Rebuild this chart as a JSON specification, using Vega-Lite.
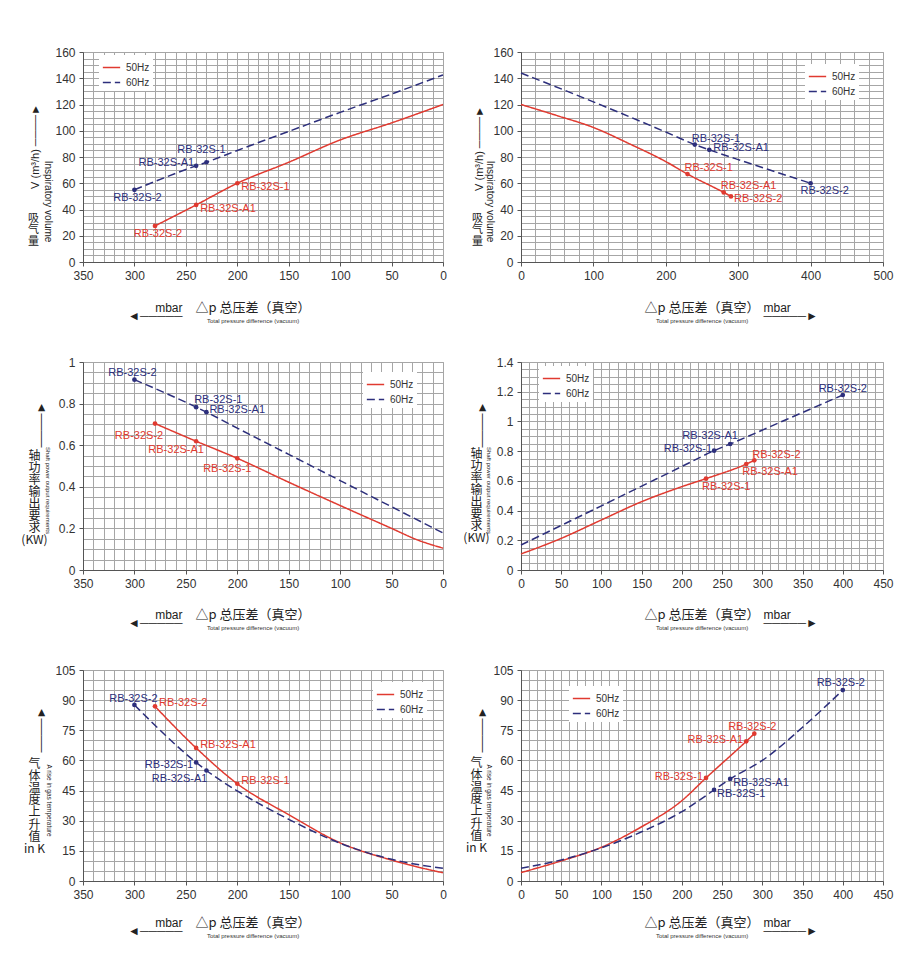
{
  "$schema": "https://vega.github.io/schema/vega-lite/v6.json",
  "background": "white",
  "padding": {"left": 20, "top": 45, "right": 5, "bottom": 5},
  "bounds": "flush",
  "columns": 2,
  "spacing": {"row": 100, "column": 78},
  "resolve": {"scale": {"color": "independent", "strokeDash": "independent"}, "legend": {"color": "independent", "strokeDash": "independent"}},
  "datasets": {
    "c1": [
      {"freq": "50Hz", "dp": 0, "val": 120}, {"freq": "50Hz", "dp": 50, "val": 106}, {"freq": "50Hz", "dp": 100, "val": 93}, {"freq": "50Hz", "dp": 150, "val": 76},
      {"freq": "50Hz", "dp": 200, "val": 60, "model": "RB-32S-1"}, {"freq": "50Hz", "dp": 240, "val": 43.5, "model": "RB-32S-A1"}, {"freq": "50Hz", "dp": 280, "val": 27.5, "model": "RB-32S-2"},
      {"freq": "60Hz", "dp": 0, "val": 142.5}, {"freq": "60Hz", "dp": 50, "val": 128}, {"freq": "60Hz", "dp": 100, "val": 114}, {"freq": "60Hz", "dp": 150, "val": 99.5}, {"freq": "60Hz", "dp": 200, "val": 85},
      {"freq": "60Hz", "dp": 230, "val": 76, "model": "RB-32S-1"}, {"freq": "60Hz", "dp": 240, "val": 73.3, "model": "RB-32S-A1"}, {"freq": "60Hz", "dp": 300, "val": 55, "model": "RB-32S-2"}
    ],
    "c2": [
      {"freq": "50Hz", "dp": 0, "val": 120}, {"freq": "50Hz", "dp": 50, "val": 111.5}, {"freq": "50Hz", "dp": 100, "val": 102.5}, {"freq": "50Hz", "dp": 150, "val": 90}, {"freq": "50Hz", "dp": 200, "val": 76.5},
      {"freq": "50Hz", "dp": 230, "val": 67, "model": "RB-32S-1"}, {"freq": "50Hz", "dp": 280, "val": 53, "model": "RB-32S-A1"}, {"freq": "50Hz", "dp": 290, "val": 50, "model": "RB-32S-2"},
      {"freq": "60Hz", "dp": 0, "val": 144}, {"freq": "60Hz", "dp": 100, "val": 122}, {"freq": "60Hz", "dp": 200, "val": 99},
      {"freq": "60Hz", "dp": 240, "val": 89.5, "model": "RB-32S-1"}, {"freq": "60Hz", "dp": 260, "val": 85.5, "model": "RB-32S-A1"}, {"freq": "60Hz", "dp": 300, "val": 78}, {"freq": "60Hz", "dp": 350, "val": 69},
      {"freq": "60Hz", "dp": 400, "val": 60, "model": "RB-32S-2"}
    ],
    "c3": [
      {"freq": "50Hz", "dp": 0, "val": 0.105}, {"freq": "50Hz", "dp": 25, "val": 0.145}, {"freq": "50Hz", "dp": 50, "val": 0.2}, {"freq": "50Hz", "dp": 100, "val": 0.31}, {"freq": "50Hz", "dp": 150, "val": 0.422},
      {"freq": "50Hz", "dp": 200, "val": 0.537, "model": "RB-32S-1"}, {"freq": "50Hz", "dp": 240, "val": 0.619, "model": "RB-32S-A1"}, {"freq": "50Hz", "dp": 280, "val": 0.704, "model": "RB-32S-2"},
      {"freq": "60Hz", "dp": 0, "val": 0.178}, {"freq": "60Hz", "dp": 50, "val": 0.304}, {"freq": "60Hz", "dp": 100, "val": 0.43}, {"freq": "60Hz", "dp": 150, "val": 0.556}, {"freq": "60Hz", "dp": 200, "val": 0.682},
      {"freq": "60Hz", "dp": 230, "val": 0.759, "model": "RB-32S-A1"}, {"freq": "60Hz", "dp": 240, "val": 0.783, "model": "RB-32S-1"}, {"freq": "60Hz", "dp": 300, "val": 0.915, "model": "RB-32S-2"}
    ],
    "c4": [
      {"freq": "50Hz", "dp": 0, "val": 0.108}, {"freq": "50Hz", "dp": 50, "val": 0.213}, {"freq": "50Hz", "dp": 100, "val": 0.337}, {"freq": "50Hz", "dp": 150, "val": 0.46}, {"freq": "50Hz", "dp": 200, "val": 0.561},
      {"freq": "50Hz", "dp": 230, "val": 0.615, "model": "RB-32S-1"}, {"freq": "50Hz", "dp": 280, "val": 0.713, "model": "RB-32S-A1"}, {"freq": "50Hz", "dp": 290, "val": 0.738, "model": "RB-32S-2"},
      {"freq": "60Hz", "dp": 0, "val": 0.168}, {"freq": "60Hz", "dp": 100, "val": 0.432}, {"freq": "60Hz", "dp": 200, "val": 0.697},
      {"freq": "60Hz", "dp": 240, "val": 0.803, "model": "RB-32S-1"}, {"freq": "60Hz", "dp": 260, "val": 0.848, "model": "RB-32S-A1"}, {"freq": "60Hz", "dp": 330, "val": 1.013},
      {"freq": "60Hz", "dp": 400, "val": 1.178, "model": "RB-32S-2"}
    ],
    "c5": [
      {"freq": "50Hz", "dp": 0, "val": 4.1}, {"freq": "50Hz", "dp": 25, "val": 7}, {"freq": "50Hz", "dp": 50, "val": 10.4}, {"freq": "50Hz", "dp": 100, "val": 19}, {"freq": "50Hz", "dp": 150, "val": 33},
      {"freq": "50Hz", "dp": 200, "val": 48.4, "model": "RB-32S-1"}, {"freq": "50Hz", "dp": 240, "val": 66.2, "model": "RB-32S-A1"}, {"freq": "50Hz", "dp": 280, "val": 86.9, "model": "RB-32S-2"},
      {"freq": "60Hz", "dp": 0, "val": 6.3}, {"freq": "60Hz", "dp": 50, "val": 10.8}, {"freq": "60Hz", "dp": 85, "val": 16}, {"freq": "60Hz", "dp": 100, "val": 18.8}, {"freq": "60Hz", "dp": 150, "val": 30.7}, {"freq": "60Hz", "dp": 200, "val": 44.8},
      {"freq": "60Hz", "dp": 230, "val": 55, "model": "RB-32S-A1"}, {"freq": "60Hz", "dp": 240, "val": 59, "model": "RB-32S-1"}, {"freq": "60Hz", "dp": 300, "val": 87.6, "model": "RB-32S-2"}
    ],
    "c6": [
      {"freq": "50Hz", "dp": 0, "val": 4.2}, {"freq": "50Hz", "dp": 50, "val": 10}, {"freq": "50Hz", "dp": 100, "val": 16.8}, {"freq": "50Hz", "dp": 150, "val": 27}, {"freq": "50Hz", "dp": 200, "val": 40},
      {"freq": "50Hz", "dp": 230, "val": 51.3, "model": "RB-32S-1"}, {"freq": "50Hz", "dp": 280, "val": 69.5, "model": "RB-32S-A1"}, {"freq": "50Hz", "dp": 290, "val": 73.3, "model": "RB-32S-2"},
      {"freq": "60Hz", "dp": 0, "val": 6.3}, {"freq": "60Hz", "dp": 50, "val": 10.5}, {"freq": "60Hz", "dp": 100, "val": 16.5}, {"freq": "60Hz", "dp": 150, "val": 24.5}, {"freq": "60Hz", "dp": 200, "val": 34.5},
      {"freq": "60Hz", "dp": 240, "val": 45.3, "model": "RB-32S-1"}, {"freq": "60Hz", "dp": 260, "val": 50.8, "model": "RB-32S-A1"}, {"freq": "60Hz", "dp": 300, "val": 60}, {"freq": "60Hz", "dp": 350, "val": 76.5},
      {"freq": "60Hz", "dp": 400, "val": 95, "model": "RB-32S-2"}
    ]
  },
  "concat": [
    {
      "width": 360, "height": 210,
      "data": {"name": "c1"},
      "title": {"text": "△p  总压差（真空）", "subtitle": "Total pressure difference (vacuum)", "dx": -10},
      "resolve": {"axis": {"x": "independent", "y": "independent"}},
      "encoding": {
        "x": {"field": "dp", "type": "quantitative", "scale": {"domain": [0, 350], "reverse": true, "nice": false, "zero": false}, "axis": null},
        "y": {"field": "val", "type": "quantitative", "scale": {"domain": [0, 160], "nice": false, "zero": false}, "axis": null},
        "color": {"field": "freq", "type": "nominal", "scale": {"domain": ["50Hz", "60Hz"], "range": ["#e03a30", "#2d2f7c"]}, "legend": null}
      },
      "layer": [
        {
          "mark": {"type": "line", "interpolate": "monotone", "strokeWidth": 1.5},
          "encoding": {
            "x": {"field": "dp", "type": "quantitative", "scale": {"domain": [0, 350], "reverse": true, "nice": false, "zero": false},
              "axis": {"orient": "bottom", "values": [0, 50, 100, 150, 200, 250, 300, 350], "grid": false, "title": ["mbar", "◄─────"], "titleX": 99, "titleY": 40, "titleAlign": "right", "titleBaseline": "top", "titleLineHeight": 8, "titleFontSize": 12, "titleFont": "Liberation Sans", "titleAngle": 0}},
            "y": {"field": "val", "type": "quantitative", "scale": {"domain": [0, 160], "nice": false, "zero": false},
              "axis": {"orient": "left", "values": [0, 20, 40, 60, 80, 100, 120, 140, 160], "grid": false, "title": "V (m³/h) ────►", "titleX": -48, "titleY": 94, "titleAngle": -90, "titleAlign": "center", "titleBaseline": "middle", "titleFontSize": 11, "titleFont": "Liberation Sans"}},
            "color": {"field": "freq", "type": "nominal", "scale": {"domain": ["50Hz", "60Hz"], "range": ["#e03a30", "#2d2f7c"]},
              "legend": {"orient": "none", "legendX": 16, "legendY": 3, "title": null}},
            "strokeDash": {"field": "freq", "type": "nominal", "scale": {"domain": ["50Hz", "60Hz"], "range": [[1, 0], [8, 4]]},
              "legend": {"orient": "none", "legendX": 16, "legendY": 3, "title": null}}
          }
        },
        {
          "transform": [{"filter": "isValid(datum.model)"}],
          "mark": {"type": "circle", "size": 22, "opacity": 1},
          "encoding": {
            "x": {"field": "dp", "type": "quantitative", "scale": {"domain": [0, 350], "reverse": true, "nice": false, "zero": false},
              "axis": {"orient": "top", "values": [0, 10, 20, 30, 40, 50, 60, 70, 80, 90, 100, 110, 120, 130, 140, 150, 160, 170, 180, 190, 200, 210, 220, 230, 240, 250, 260, 270, 280, 290, 300, 310, 320, 330, 340, 350], "grid": true, "labels": false, "ticks": false, "domain": false,
                "title": ["吸", "气", "量"], "titleAngle": 0, "titleX": -50, "titleY": 160, "titleAlign": "center", "titleBaseline": "top", "titleFontSize": 11, "titleLineHeight": 11.5}},
            "y": {"field": "val", "type": "quantitative", "scale": {"domain": [0, 160], "nice": false, "zero": false},
              "axis": {"orient": "right", "values": [0, 5, 10, 15, 20, 25, 30, 35, 40, 45, 50, 55, 60, 65, 70, 75, 80, 85, 90, 95, 100, 105, 110, 115, 120, 125, 130, 135, 140, 145, 150, 155, 160], "grid": true, "labels": false, "ticks": false, "domain": false,
                "title": "Inspiratory volume", "titleAngle": 90, "titleX": -396, "titleY": 149, "titleAlign": "center", "titleBaseline": "middle", "titleFontSize": 10, "titleFont": "Liberation Sans"}}
          }
        },
        {"transform": [{"filter": "datum.freq=='50Hz' && (datum.model=='RB-32S-1' || datum.model=='RB-32S-A1')"}], "mark": {"type": "text", "align": "left", "baseline": "middle", "dx": 4, "dy": 4}, "encoding": {"text": {"field": "model"}}},
        {"transform": [{"filter": "datum.model=='RB-32S-2'"}], "mark": {"type": "text", "align": "center", "baseline": "middle", "dx": 3, "dy": 8}, "encoding": {"text": {"field": "model"}}},
        {"transform": [{"filter": "datum.freq=='60Hz' && datum.model=='RB-32S-1'"}], "mark": {"type": "text", "align": "center", "baseline": "middle", "dx": -5, "dy": -12}, "encoding": {"text": {"field": "model"}}},
        {"transform": [{"filter": "datum.freq=='60Hz' && datum.model=='RB-32S-A1'"}], "mark": {"type": "text", "align": "right", "baseline": "middle", "dx": -2, "dy": -3}, "encoding": {"text": {"field": "model"}}}
      ]
    },
    {
      "width": 362, "height": 210,
      "data": {"name": "c2"},
      "title": {"text": "△p  总压差（真空）", "subtitle": "Total pressure difference (vacuum)", "dx": 0},
      "resolve": {"axis": {"x": "independent", "y": "independent"}},
      "encoding": {
        "x": {"field": "dp", "type": "quantitative", "scale": {"domain": [0, 500], "nice": false, "zero": false}, "axis": null},
        "y": {"field": "val", "type": "quantitative", "scale": {"domain": [0, 160], "nice": false, "zero": false}, "axis": null},
        "color": {"field": "freq", "type": "nominal", "scale": {"domain": ["50Hz", "60Hz"], "range": ["#e03a30", "#2d2f7c"]}, "legend": null}
      },
      "layer": [
        {
          "mark": {"type": "line", "interpolate": "monotone", "strokeWidth": 1.5},
          "encoding": {
            "x": {"field": "dp", "type": "quantitative", "scale": {"domain": [0, 500], "nice": false, "zero": false},
              "axis": {"orient": "bottom", "values": [0, 100, 200, 300, 400, 500], "grid": false, "title": ["mbar", "─────►"], "titleX": 242, "titleY": 40, "titleAlign": "left", "titleBaseline": "top", "titleLineHeight": 8, "titleFontSize": 12, "titleFont": "Liberation Sans", "titleAngle": 0}},
            "y": {"field": "val", "type": "quantitative", "scale": {"domain": [0, 160], "nice": false, "zero": false},
              "axis": {"orient": "left", "values": [0, 20, 40, 60, 80, 100, 120, 140, 160], "grid": false, "title": "V (m³/h) ────►", "titleX": -42, "titleY": 96, "titleAngle": -90, "titleAlign": "center", "titleBaseline": "middle", "titleFontSize": 11, "titleFont": "Liberation Sans"}},
            "color": {"field": "freq", "type": "nominal", "scale": {"domain": ["50Hz", "60Hz"], "range": ["#e03a30", "#2d2f7c"]},
              "legend": {"orient": "none", "legendX": 284, "legendY": 12, "title": null}},
            "strokeDash": {"field": "freq", "type": "nominal", "scale": {"domain": ["50Hz", "60Hz"], "range": [[1, 0], [8, 4]]},
              "legend": {"orient": "none", "legendX": 284, "legendY": 12, "title": null}}
          }
        },
        {
          "transform": [{"filter": "isValid(datum.model)"}],
          "mark": {"type": "circle", "size": 22, "opacity": 1},
          "encoding": {
            "x": {"field": "dp", "type": "quantitative", "scale": {"domain": [0, 500], "nice": false, "zero": false},
              "axis": {"orient": "top", "values": [0, 20, 40, 60, 80, 100, 120, 140, 160, 180, 200, 220, 240, 260, 280, 300, 320, 340, 360, 380, 400, 420, 440, 460, 480, 500], "grid": true, "labels": false, "ticks": false, "domain": false,
                "title": ["吸", "气", "量"], "titleAngle": 0, "titleX": -44, "titleY": 160, "titleAlign": "center", "titleBaseline": "top", "titleFontSize": 11, "titleLineHeight": 11.5}},
            "y": {"field": "val", "type": "quantitative", "scale": {"domain": [0, 160], "nice": false, "zero": false},
              "axis": {"orient": "right", "values": [0, 5, 10, 15, 20, 25, 30, 35, 40, 45, 50, 55, 60, 65, 70, 75, 80, 85, 90, 95, 100, 105, 110, 115, 120, 125, 130, 135, 140, 145, 150, 155, 160], "grid": true, "labels": false, "ticks": false, "domain": false,
                "title": "Inspiratory volume", "titleAngle": 90, "titleX": -394, "titleY": 149, "titleAlign": "center", "titleBaseline": "middle", "titleFontSize": 10, "titleFont": "Liberation Sans"}}
          }
        },
        {"transform": [{"filter": "(datum.freq=='60Hz' && datum.model=='RB-32S-1') || (datum.freq=='50Hz' && (datum.model=='RB-32S-1' || datum.model=='RB-32S-A1'))"}], "mark": {"type": "text", "align": "left", "baseline": "middle", "dx": -3, "dy": -6}, "encoding": {"text": {"field": "model"}}},
        {"transform": [{"filter": "datum.freq=='60Hz' && datum.model=='RB-32S-A1'"}], "mark": {"type": "text", "align": "left", "baseline": "middle", "dx": 4, "dy": -2}, "encoding": {"text": {"field": "model"}}},
        {"transform": [{"filter": "datum.freq=='60Hz' && datum.model=='RB-32S-2'"}], "mark": {"type": "text", "align": "center", "baseline": "middle", "dx": 14, "dy": 8}, "encoding": {"text": {"field": "model"}}},
        {"transform": [{"filter": "datum.freq=='50Hz' && datum.model=='RB-32S-2'"}], "mark": {"type": "text", "align": "left", "baseline": "middle", "dx": 3, "dy": 3}, "encoding": {"text": {"field": "model"}}}
      ]
    },
    {
      "width": 360, "height": 208,
      "data": {"name": "c3"},
      "title": {"text": "△p  总压差（真空）", "subtitle": "Total pressure difference (vacuum)", "dx": -10},
      "resolve": {"axis": {"x": "independent", "y": "independent"}},
      "encoding": {
        "x": {"field": "dp", "type": "quantitative", "scale": {"domain": [0, 350], "reverse": true, "nice": false, "zero": false}, "axis": null},
        "y": {"field": "val", "type": "quantitative", "scale": {"domain": [0, 1], "nice": false, "zero": false}, "axis": null},
        "color": {"field": "freq", "type": "nominal", "scale": {"domain": ["50Hz", "60Hz"], "range": ["#e03a30", "#2d2f7c"]}, "legend": null}
      },
      "layer": [
        {
          "mark": {"type": "line", "interpolate": "monotone", "strokeWidth": 1.5},
          "encoding": {
            "x": {"field": "dp", "type": "quantitative", "scale": {"domain": [0, 350], "reverse": true, "nice": false, "zero": false},
              "axis": {"orient": "bottom", "values": [0, 50, 100, 150, 200, 250, 300, 350], "grid": false, "title": ["mbar", "◄─────"], "titleX": 99, "titleY": 39, "titleAlign": "right", "titleBaseline": "top", "titleLineHeight": 8, "titleFontSize": 12, "titleFont": "Liberation Sans", "titleAngle": 0}},
            "y": {"field": "val", "type": "quantitative", "scale": {"domain": [0, 1], "nice": false, "zero": false},
              "axis": {"orient": "left", "values": [0, 0.2, 0.4, 0.6, 0.8, 1], "format": "~g", "grid": false, "title": "────►", "titleX": -43, "titleY": 62, "titleAngle": -90, "titleAlign": "center", "titleBaseline": "middle", "titleFontSize": 12, "titleFont": "Liberation Sans"}},
            "color": {"field": "freq", "type": "nominal", "scale": {"domain": ["50Hz", "60Hz"], "range": ["#e03a30", "#2d2f7c"]},
              "legend": {"orient": "none", "legendX": 280, "legendY": 10, "title": null}},
            "strokeDash": {"field": "freq", "type": "nominal", "scale": {"domain": ["50Hz", "60Hz"], "range": [[1, 0], [8, 4]]},
              "legend": {"orient": "none", "legendX": 280, "legendY": 10, "title": null}}
          }
        },
        {
          "transform": [{"filter": "isValid(datum.model)"}],
          "mark": {"type": "circle", "size": 22, "opacity": 1},
          "encoding": {
            "x": {"field": "dp", "type": "quantitative", "scale": {"domain": [0, 350], "reverse": true, "nice": false, "zero": false},
              "axis": {"orient": "top", "values": [0, 10, 20, 30, 40, 50, 60, 70, 80, 90, 100, 110, 120, 130, 140, 150, 160, 170, 180, 190, 200, 210, 220, 230, 240, 250, 260, 270, 280, 290, 300, 310, 320, 330, 340, 350], "grid": true, "labels": false, "ticks": false, "domain": false,
                "title": ["轴", "功", "率", "输", "出", "要", "求", "(KW)"], "titleAngle": 0, "titleX": -49, "titleY": 88, "titleAlign": "center", "titleBaseline": "top", "titleFontSize": 12, "titleLineHeight": 12}},
            "y": {"field": "val", "type": "quantitative", "scale": {"domain": [0, 1], "nice": false, "zero": false},
              "axis": {"orient": "right", "values": [0, 0.05, 0.1, 0.15, 0.2, 0.25, 0.3, 0.35, 0.4, 0.45, 0.5, 0.55, 0.6, 0.65, 0.7, 0.75, 0.8, 0.85, 0.9, 0.95, 1], "grid": true, "labels": false, "ticks": false, "domain": false,
                "title": "Shaft power output requirements", "titleAngle": 90, "titleX": -396, "titleY": 128, "titleAlign": "center", "titleBaseline": "middle", "titleFontSize": 6, "titleFont": "Liberation Sans"}}
          }
        },
        {"transform": [{"filter": "datum.freq=='60Hz' && datum.model=='RB-32S-2'"}], "mark": {"type": "text", "align": "center", "baseline": "middle", "dx": -2, "dy": -7}, "encoding": {"text": {"field": "model"}}},
        {"transform": [{"filter": "datum.freq=='60Hz' && datum.model=='RB-32S-1'"}], "mark": {"type": "text", "align": "left", "baseline": "middle", "dx": -2, "dy": -7}, "encoding": {"text": {"field": "model"}}},
        {"transform": [{"filter": "datum.freq=='60Hz' && datum.model=='RB-32S-A1'"}], "mark": {"type": "text", "align": "left", "baseline": "middle", "dx": 3, "dy": -2}, "encoding": {"text": {"field": "model"}}},
        {"transform": [{"filter": "datum.freq=='50Hz' && datum.model=='RB-32S-2'"}], "mark": {"type": "text", "align": "center", "baseline": "middle", "dx": -16, "dy": 12}, "encoding": {"text": {"field": "model"}}},
        {"transform": [{"filter": "datum.freq=='50Hz' && datum.model=='RB-32S-A1'"}], "mark": {"type": "text", "align": "center", "baseline": "middle", "dx": -20, "dy": 9}, "encoding": {"text": {"field": "model"}}},
        {"transform": [{"filter": "datum.freq=='50Hz' && datum.model=='RB-32S-1'"}], "mark": {"type": "text", "align": "center", "baseline": "middle", "dx": -10, "dy": 11}, "encoding": {"text": {"field": "model"}}}
      ]
    },
    {
      "width": 362, "height": 208,
      "data": {"name": "c4"},
      "title": {"text": "△p  总压差（真空）", "subtitle": "Total pressure difference (vacuum)", "dx": 0},
      "resolve": {"axis": {"x": "independent", "y": "independent"}},
      "encoding": {
        "x": {"field": "dp", "type": "quantitative", "scale": {"domain": [0, 450], "nice": false, "zero": false}, "axis": null},
        "y": {"field": "val", "type": "quantitative", "scale": {"domain": [0, 1.4], "nice": false, "zero": false}, "axis": null},
        "color": {"field": "freq", "type": "nominal", "scale": {"domain": ["50Hz", "60Hz"], "range": ["#e03a30", "#2d2f7c"]}, "legend": null}
      },
      "layer": [
        {
          "mark": {"type": "line", "interpolate": "monotone", "strokeWidth": 1.5},
          "encoding": {
            "x": {"field": "dp", "type": "quantitative", "scale": {"domain": [0, 450], "nice": false, "zero": false},
              "axis": {"orient": "bottom", "values": [0, 50, 100, 150, 200, 250, 300, 350, 400, 450], "grid": false, "title": ["mbar", "─────►"], "titleX": 242, "titleY": 39, "titleAlign": "left", "titleBaseline": "top", "titleLineHeight": 8, "titleFontSize": 12, "titleFont": "Liberation Sans", "titleAngle": 0}},
            "y": {"field": "val", "type": "quantitative", "scale": {"domain": [0, 1.4], "nice": false, "zero": false},
              "axis": {"orient": "left", "values": [0, 0.2, 0.4, 0.6, 0.8, 1, 1.2, 1.4], "format": "~g", "grid": false, "title": "────►", "titleX": -40, "titleY": 62, "titleAngle": -90, "titleAlign": "center", "titleBaseline": "middle", "titleFontSize": 12, "titleFont": "Liberation Sans"}},
            "color": {"field": "freq", "type": "nominal", "scale": {"domain": ["50Hz", "60Hz"], "range": ["#e03a30", "#2d2f7c"]},
              "legend": {"orient": "none", "legendX": 18, "legendY": 4, "title": null}},
            "strokeDash": {"field": "freq", "type": "nominal", "scale": {"domain": ["50Hz", "60Hz"], "range": [[1, 0], [8, 4]]},
              "legend": {"orient": "none", "legendX": 18, "legendY": 4, "title": null}}
          }
        },
        {
          "transform": [{"filter": "isValid(datum.model)"}],
          "mark": {"type": "circle", "size": 22, "opacity": 1},
          "encoding": {
            "x": {"field": "dp", "type": "quantitative", "scale": {"domain": [0, 450], "nice": false, "zero": false},
              "axis": {"orient": "top", "values": [0, 10, 20, 30, 40, 50, 60, 70, 80, 90, 100, 110, 120, 130, 140, 150, 160, 170, 180, 190, 200, 210, 220, 230, 240, 250, 260, 270, 280, 290, 300, 310, 320, 330, 340, 350, 360, 370, 380, 390, 400, 410, 420, 430, 440, 450], "grid": true, "labels": false, "ticks": false, "domain": false,
                "title": ["轴", "功", "率", "输", "出", "要", "求", "(KW)"], "titleAngle": 0, "titleX": -45, "titleY": 86, "titleAlign": "center", "titleBaseline": "top", "titleFontSize": 12, "titleLineHeight": 12}},
            "y": {"field": "val", "type": "quantitative", "scale": {"domain": [0, 1.4], "nice": false, "zero": false},
              "axis": {"orient": "right", "values": [0, 0.05, 0.1, 0.15, 0.2, 0.25, 0.3, 0.35, 0.4, 0.45, 0.5, 0.55, 0.6, 0.65, 0.7, 0.75, 0.8, 0.85, 0.9, 0.95, 1, 1.05, 1.1, 1.15, 1.2, 1.25, 1.3, 1.35, 1.4], "grid": true, "labels": false, "ticks": false, "domain": false,
                "title": "Shaft power output requirements", "titleAngle": 90, "titleX": -395, "titleY": 128, "titleAlign": "center", "titleBaseline": "middle", "titleFontSize": 6, "titleFont": "Liberation Sans"}}
          }
        },
        {"transform": [{"filter": "datum.freq=='60Hz' && datum.model=='RB-32S-2'"}], "mark": {"type": "text", "align": "center", "baseline": "middle", "dx": 0, "dy": -6}, "encoding": {"text": {"field": "model"}}},
        {"transform": [{"filter": "datum.freq=='60Hz' && datum.model=='RB-32S-A1'"}], "mark": {"type": "text", "align": "center", "baseline": "middle", "dx": -20, "dy": -8}, "encoding": {"text": {"field": "model"}}},
        {"transform": [{"filter": "datum.freq=='60Hz' && datum.model=='RB-32S-1'"}], "mark": {"type": "text", "align": "right", "baseline": "middle", "dx": -2, "dy": -2}, "encoding": {"text": {"field": "model"}}},
        {"transform": [{"filter": "datum.freq=='50Hz' && datum.model=='RB-32S-2'"}], "mark": {"type": "text", "align": "left", "baseline": "middle", "dx": -2, "dy": -5}, "encoding": {"text": {"field": "model"}}},
        {"transform": [{"filter": "datum.freq=='50Hz' && (datum.model=='RB-32S-A1' || datum.model=='RB-32S-1')"}], "mark": {"type": "text", "align": "left", "baseline": "middle", "dx": -4, "dy": 8}, "encoding": {"text": {"field": "model"}}}
      ]
    },
    {
      "width": 360, "height": 211,
      "data": {"name": "c5"},
      "title": {"text": "△p  总压差（真空）", "subtitle": "Total pressure difference (vacuum)", "dx": -10},
      "resolve": {"axis": {"x": "independent", "y": "independent"}},
      "encoding": {
        "x": {"field": "dp", "type": "quantitative", "scale": {"domain": [0, 350], "reverse": true, "nice": false, "zero": false}, "axis": null},
        "y": {"field": "val", "type": "quantitative", "scale": {"domain": [0, 105], "nice": false, "zero": false}, "axis": null},
        "color": {"field": "freq", "type": "nominal", "scale": {"domain": ["50Hz", "60Hz"], "range": ["#e03a30", "#2d2f7c"]}, "legend": null}
      },
      "layer": [
        {
          "mark": {"type": "line", "interpolate": "monotone", "strokeWidth": 1.5},
          "encoding": {
            "x": {"field": "dp", "type": "quantitative", "scale": {"domain": [0, 350], "reverse": true, "nice": false, "zero": false},
              "axis": {"orient": "bottom", "values": [0, 50, 100, 150, 200, 250, 300, 350], "grid": false, "title": ["mbar", "◄─────"], "titleX": 99, "titleY": 36, "titleAlign": "right", "titleBaseline": "top", "titleLineHeight": 8, "titleFontSize": 12, "titleFont": "Liberation Sans", "titleAngle": 0}},
            "y": {"field": "val", "type": "quantitative", "scale": {"domain": [0, 105], "nice": false, "zero": false},
              "axis": {"orient": "left", "values": [0, 15, 30, 45, 60, 75, 90, 105], "grid": false, "title": "────►", "titleX": -43, "titleY": 59, "titleAngle": -90, "titleAlign": "center", "titleBaseline": "middle", "titleFontSize": 12, "titleFont": "Liberation Sans"}},
            "color": {"field": "freq", "type": "nominal", "scale": {"domain": ["50Hz", "60Hz"], "range": ["#e03a30", "#2d2f7c"]},
              "legend": {"orient": "none", "legendX": 290, "legendY": 12, "title": null}},
            "strokeDash": {"field": "freq", "type": "nominal", "scale": {"domain": ["50Hz", "60Hz"], "range": [[1, 0], [8, 4]]},
              "legend": {"orient": "none", "legendX": 290, "legendY": 12, "title": null}}
          }
        },
        {
          "transform": [{"filter": "isValid(datum.model)"}],
          "mark": {"type": "circle", "size": 22, "opacity": 1},
          "encoding": {
            "x": {"field": "dp", "type": "quantitative", "scale": {"domain": [0, 350], "reverse": true, "nice": false, "zero": false},
              "axis": {"orient": "top", "values": [0, 10, 20, 30, 40, 50, 60, 70, 80, 90, 100, 110, 120, 130, 140, 150, 160, 170, 180, 190, 200, 210, 220, 230, 240, 250, 260, 270, 280, 290, 300, 310, 320, 330, 340, 350], "grid": true, "labels": false, "ticks": false, "domain": false,
                "title": ["气", "体", "温", "度", "上", "升", "值", "in K"], "titleAngle": 0, "titleX": -49, "titleY": 88, "titleAlign": "center", "titleBaseline": "top", "titleFontSize": 12, "titleLineHeight": 12.2}},
            "y": {"field": "val", "type": "quantitative", "scale": {"domain": [0, 105], "nice": false, "zero": false},
              "axis": {"orient": "right", "values": [0, 5, 10, 15, 20, 25, 30, 35, 40, 45, 50, 55, 60, 65, 70, 75, 80, 85, 90, 95, 100, 105], "grid": true, "labels": false, "ticks": false, "domain": false,
                "title": "A rise in gas temperature", "titleAngle": 90, "titleX": -395, "titleY": 130, "titleAlign": "center", "titleBaseline": "middle", "titleFontSize": 6.5, "titleFont": "Liberation Sans"}}
          }
        },
        {"transform": [{"filter": "datum.freq=='60Hz' && datum.model=='RB-32S-2'"}], "mark": {"type": "text", "align": "center", "baseline": "middle", "dx": -1, "dy": -6}, "encoding": {"text": {"field": "model"}}},
        {"transform": [{"filter": "datum.freq=='50Hz' && isValid(datum.model)"}], "mark": {"type": "text", "align": "left", "baseline": "middle", "dx": 4, "dy": -3}, "encoding": {"text": {"field": "model"}}},
        {"transform": [{"filter": "datum.freq=='60Hz' && datum.model=='RB-32S-1'"}], "mark": {"type": "text", "align": "right", "baseline": "middle", "dx": -3, "dy": 3}, "encoding": {"text": {"field": "model"}}},
        {"transform": [{"filter": "datum.freq=='60Hz' && datum.model=='RB-32S-A1'"}], "mark": {"type": "text", "align": "right", "baseline": "middle", "dx": 1, "dy": 9}, "encoding": {"text": {"field": "model"}}}
      ]
    },
    {
      "width": 362, "height": 211,
      "data": {"name": "c6"},
      "title": {"text": "△p  总压差（真空）", "subtitle": "Total pressure difference (vacuum)", "dx": 0},
      "resolve": {"axis": {"x": "independent", "y": "independent"}},
      "encoding": {
        "x": {"field": "dp", "type": "quantitative", "scale": {"domain": [0, 450], "nice": false, "zero": false}, "axis": null},
        "y": {"field": "val", "type": "quantitative", "scale": {"domain": [0, 105], "nice": false, "zero": false}, "axis": null},
        "color": {"field": "freq", "type": "nominal", "scale": {"domain": ["50Hz", "60Hz"], "range": ["#e03a30", "#2d2f7c"]}, "legend": null}
      },
      "layer": [
        {
          "mark": {"type": "line", "interpolate": "monotone", "strokeWidth": 1.5},
          "encoding": {
            "x": {"field": "dp", "type": "quantitative", "scale": {"domain": [0, 450], "nice": false, "zero": false},
              "axis": {"orient": "bottom", "values": [0, 50, 100, 150, 200, 250, 300, 350, 400, 450], "grid": false, "title": ["mbar", "─────►"], "titleX": 242, "titleY": 36, "titleAlign": "left", "titleBaseline": "top", "titleLineHeight": 8, "titleFontSize": 12, "titleFont": "Liberation Sans", "titleAngle": 0}},
            "y": {"field": "val", "type": "quantitative", "scale": {"domain": [0, 105], "nice": false, "zero": false},
              "axis": {"orient": "left", "values": [0, 15, 30, 45, 60, 75, 90, 105], "grid": false, "title": "────►", "titleX": -40, "titleY": 59, "titleAngle": -90, "titleAlign": "center", "titleBaseline": "middle", "titleFontSize": 12, "titleFont": "Liberation Sans"}},
            "color": {"field": "freq", "type": "nominal", "scale": {"domain": ["50Hz", "60Hz"], "range": ["#e03a30", "#2d2f7c"]},
              "legend": {"orient": "none", "legendX": 48, "legendY": 16, "title": null}},
            "strokeDash": {"field": "freq", "type": "nominal", "scale": {"domain": ["50Hz", "60Hz"], "range": [[1, 0], [8, 4]]},
              "legend": {"orient": "none", "legendX": 48, "legendY": 16, "title": null}}
          }
        },
        {
          "transform": [{"filter": "isValid(datum.model)"}],
          "mark": {"type": "circle", "size": 22, "opacity": 1},
          "encoding": {
            "x": {"field": "dp", "type": "quantitative", "scale": {"domain": [0, 450], "nice": false, "zero": false},
              "axis": {"orient": "top", "values": [0, 10, 20, 30, 40, 50, 60, 70, 80, 90, 100, 110, 120, 130, 140, 150, 160, 170, 180, 190, 200, 210, 220, 230, 240, 250, 260, 270, 280, 290, 300, 310, 320, 330, 340, 350, 360, 370, 380, 390, 400, 410, 420, 430, 440, 450], "grid": true, "labels": false, "ticks": false, "domain": false,
                "title": ["气", "体", "温", "度", "上", "升", "值", "in K"], "titleAngle": 0, "titleX": -45, "titleY": 87, "titleAlign": "center", "titleBaseline": "top", "titleFontSize": 12, "titleLineHeight": 12.2}},
            "y": {"field": "val", "type": "quantitative", "scale": {"domain": [0, 105], "nice": false, "zero": false},
              "axis": {"orient": "right", "values": [0, 5, 10, 15, 20, 25, 30, 35, 40, 45, 50, 55, 60, 65, 70, 75, 80, 85, 90, 95, 100, 105], "grid": true, "labels": false, "ticks": false, "domain": false,
                "title": "A rise in gas temperature", "titleAngle": 90, "titleX": -395, "titleY": 130, "titleAlign": "center", "titleBaseline": "middle", "titleFontSize": 6.5, "titleFont": "Liberation Sans"}}
          }
        },
        {"transform": [{"filter": "datum.model=='RB-32S-2'"}], "mark": {"type": "text", "align": "center", "baseline": "middle", "dx": -2, "dy": -7}, "encoding": {"text": {"field": "model"}}},
        {"transform": [{"filter": "datum.freq=='50Hz' && (datum.model=='RB-32S-A1' || datum.model=='RB-32S-1')"}], "mark": {"type": "text", "align": "right", "baseline": "middle", "dx": -3, "dy": -1}, "encoding": {"text": {"field": "model"}}},
        {"transform": [{"filter": "datum.freq=='60Hz' && (datum.model=='RB-32S-A1' || datum.model=='RB-32S-1')"}], "mark": {"type": "text", "align": "left", "baseline": "middle", "dx": 3, "dy": 4.5}, "encoding": {"text": {"field": "model"}}}
      ]
    }
  ],
  "config": {
    "font": "Liberation Sans",
    "view": {"stroke": "#a6a6a6"},
    "text": {"font": "Liberation Sans", "fontSize": 11},
    "axis": {"labelFont": "Liberation Sans", "labelFontSize": 12, "labelColor": "#333333", "labelPadding": 4, "labelFlush": false, "labelOverlap": false,
      "domainColor": "#555555", "tickColor": "#555555", "tickSize": 4, "gridColor": "#a6a6a6", "gridOpacity": 1, "gridWidth": 1,
      "titleFont": "Noto Sans CJK SC", "titleFontWeight": "normal", "titleColor": "#222222"},
    "legend": {"fillColor": "white", "padding": 3, "symbolSize": 300, "symbolStrokeWidth": 1.5, "labelFontSize": 10, "labelFont": "Liberation Sans", "labelColor": "#333333", "rowPadding": 0, "labelOffset": 5},
    "title": {"orient": "bottom", "anchor": "middle", "frame": "group", "offset": -19, "font": "Noto Sans CJK SC", "fontSize": 13, "fontWeight": "normal", "color": "#222222",
      "subtitleFont": "Liberation Sans", "subtitleFontSize": 6, "subtitleColor": "#333333", "subtitlePadding": 3}
  }
}
